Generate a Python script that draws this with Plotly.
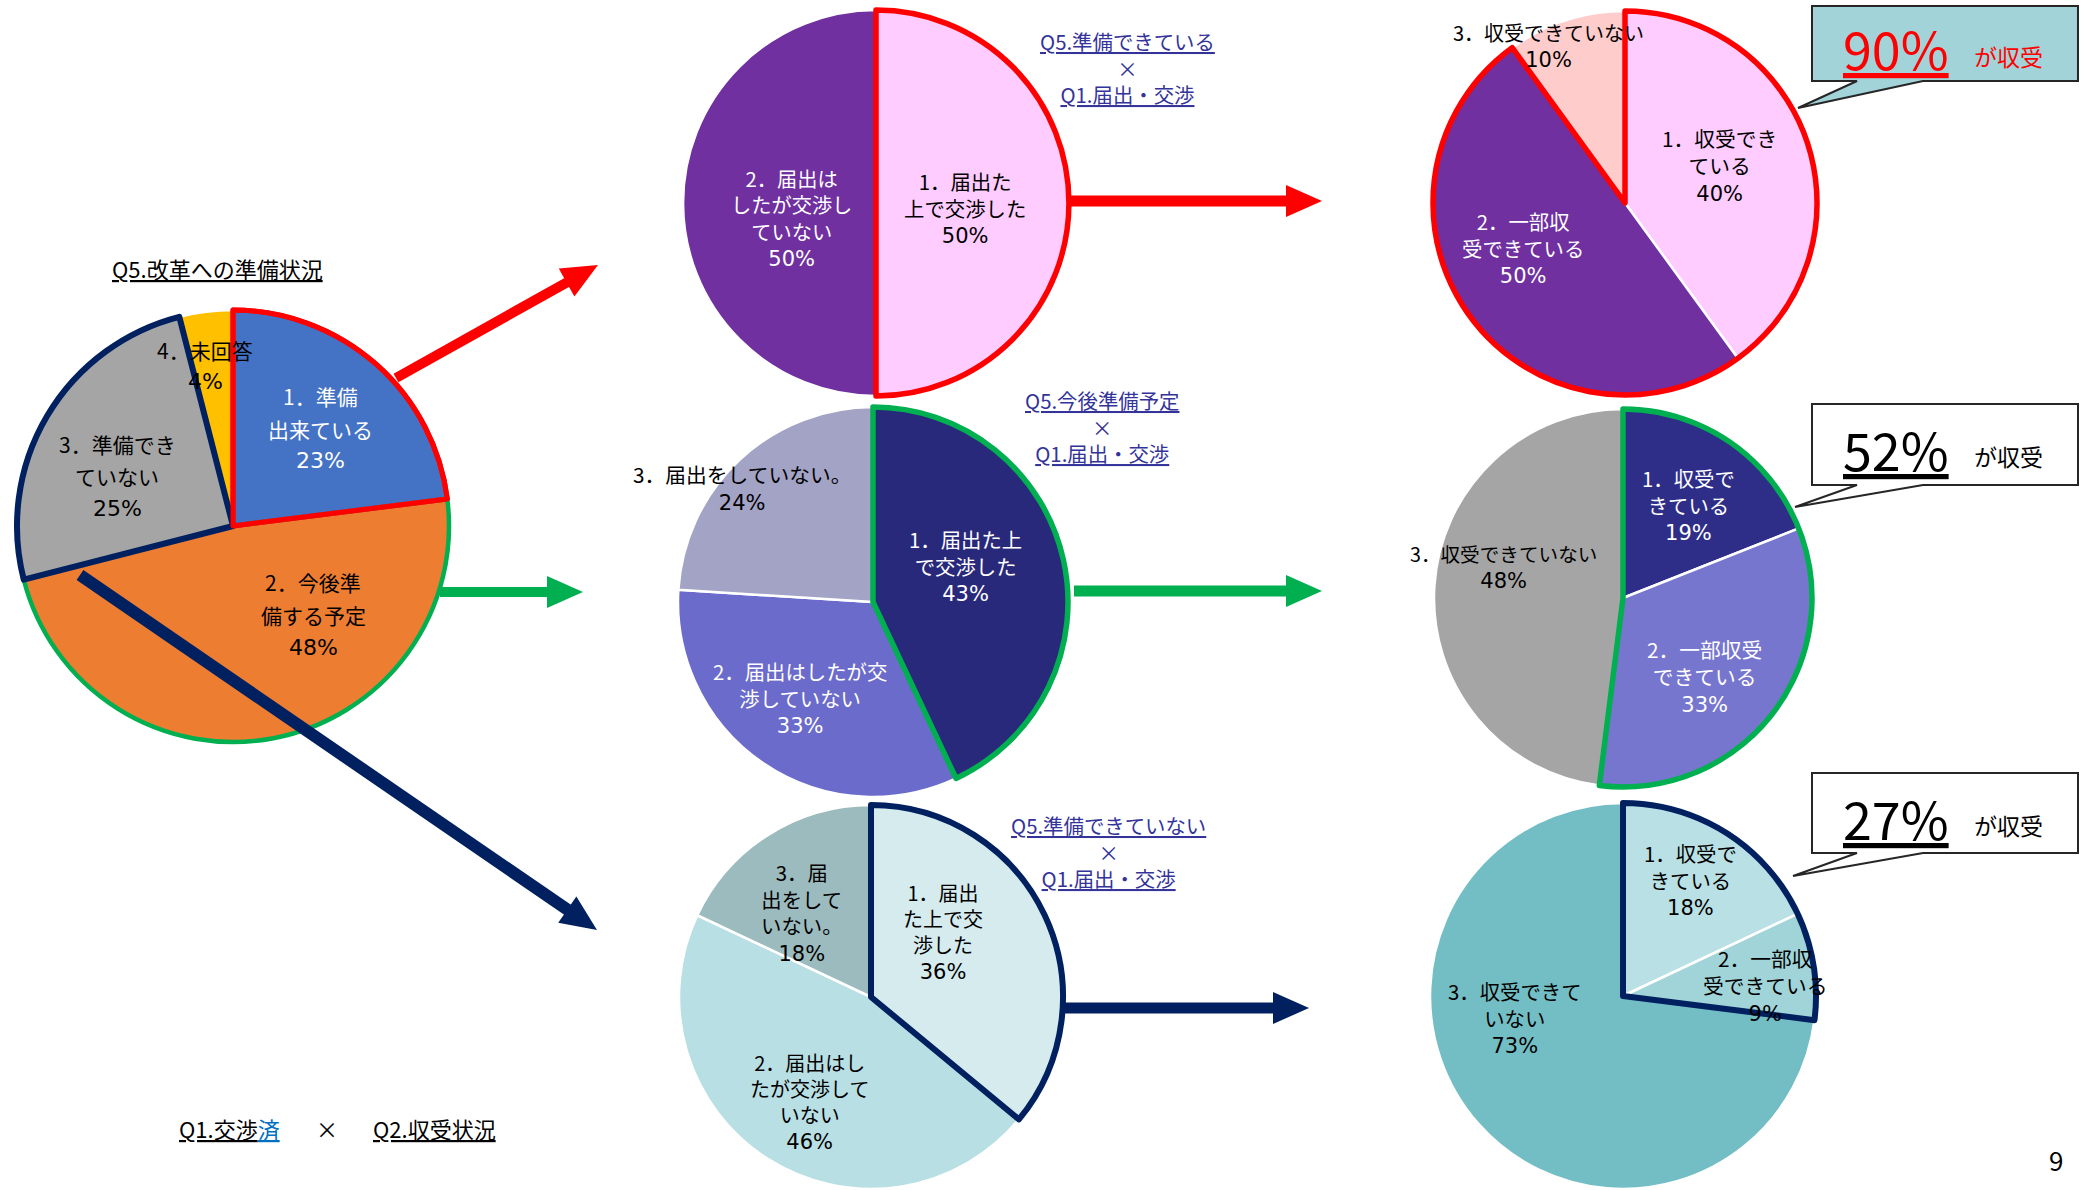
import plotly.graph_objects as go

W, H = 2089, 1190
FONT = "Noto Sans CJK JP"
NUM_FONT = "DejaVu Sans"

# ---------------- data ----------------
main_categories = ["1．準備出来ている", "2．今後準備する予定", "3．準備できていない", "4．未回答"]
main_values = [23, 48, 25, 4]

nego_categories = ["1．届出た上で交渉した", "2．届出はしたが交渉していない", "3．届出をしていない。"]
nego_ready = [50, 50]            # Q5 準備できている × Q1
nego_planned = [43, 33, 24]      # Q5 今後準備予定 × Q1
nego_notready = [36, 46, 18]     # Q5 準備できていない × Q1

recv_categories = ["1．収受できている", "2．一部収受できている", "3．収受できていない"]
recv_ready = [40, 50, 10]
recv_planned = [19, 33, 48]
recv_notready = [18, 9, 73]

main_title = "Q5.改革への準備状況"
cross_titles = [["Q5.準備できている", "×", "Q1.届出・交渉"],
                ["Q5.今後準備予定", "×", "Q1.届出・交渉"],
                ["Q5.準備できていない", "×", "Q1.届出・交渉"]]
callout_suffix = "が収受"

fig = go.Figure()


def px(x):
    return x / W


def py(y):
    return 1 - y / H


def dom(cx, cy, r):
    return dict(x=[max(0, (cx - r) / W), min(1, (cx + r) / W)],
                y=[max(0, 1 - (cy + r) / H), min(1, 1 - (cy - r) / H)])


def add_pie(values, labels, colors, cx, cy, r):
    fig.add_trace(go.Pie(values=values, labels=labels, sort=False, direction="clockwise",
                         rotation=0, textinfo="none", hoverinfo="none", showlegend=False,
                         marker=dict(colors=colors, line=dict(color="white", width=2.5)),
                         domain=dom(cx, cy, r)))


def add_outline(values, cx, cy, r, colors, widths):
    fig.add_trace(go.Pie(values=values, sort=False, direction="clockwise", rotation=0,
                         textinfo="none", hoverinfo="none", showlegend=False,
                         marker=dict(colors=["rgba(0,0,0,0)"] * len(values),
                                     line=dict(color=colors, width=widths)),
                         domain=dom(cx, cy, r)))


def text(x, y, t, color="black", size=20, family=FONT):
    fig.add_annotation(x=px(x), y=py(y), xref="paper", yref="paper", text=t, showarrow=False,
                       font=dict(family=family, size=size, color=color),
                       xanchor="center", yanchor="middle", borderpad=0)


def pct(val, size=21):
    return f"<span style='font-family:{NUM_FONT};font-size:{size}px'>{val}%</span>"


def label(cat, val, breaks, x, y0, color, spacing=26.5):
    parts, last = [], 0
    for b in breaks:
        parts.append(cat[last:b])
        last = b
    parts.append(cat[last:])
    n = len(parts) + 1
    if spacing > 30:
        for i, t in enumerate(parts):
            text(x, y0 + i * spacing, t, color, 21)
        text(x, y0 + len(parts) * spacing, f"{val}%", color, 22, NUM_FONT)
    else:
        body = "<br>".join(parts) + "<br>" + pct(val)
        text(x, y0 + (n - 1) * spacing / 2, body, color, spacing / 1.3)


def arrow(x0, y0, x1, y1, color, width, head_len=36, head_w=32):
    dx, dy = x1 - x0, y1 - y0
    L = (dx * dx + dy * dy) ** 0.5
    ux, uy = dx / L, dy / L
    bx, by = x1 - ux * head_len, y1 - uy * head_len
    fig.add_shape(type="line", xref="paper", yref="paper",
                  x0=px(x0), y0=py(y0), x1=px(bx + ux * 3), y1=py(by + uy * 3),
                  line=dict(color=color, width=width))
    nx, ny = -uy, ux
    pts = [(x1, y1), (bx + nx * head_w / 2, by + ny * head_w / 2),
           (bx - nx * head_w / 2, by - ny * head_w / 2)]
    path = "M " + " L ".join(f"{px(a):.5f},{py(b):.5f}" for a, b in pts) + " Z"
    fig.add_shape(type="path", path=path, xref="paper", yref="paper",
                  fillcolor=color, line=dict(color=color, width=0))


def callout(x0, y0, x1, y1, bl, br, tipx, tipy, fill):
    pts = [(x0, y0), (x1, y0), (x1, y1), (br, y1), (tipx, tipy), (bl, y1), (x0, y1)]
    path = "M " + " L ".join(f"{px(a):.5f},{py(b):.5f}" for a, b in pts) + " Z"
    fig.add_shape(type="path", path=path, xref="paper", yref="paper",
                  fillcolor=fill, line=dict(color="#262626", width=2))


RED, GREEN, NAVY = "#FF0000", "#00B050", "#002060"
UL = "<span style='text-decoration:underline'>{}</span>"
NONE = "rgba(0,0,0,0)"

# ---------------- main pie ----------------
mc = (233, 526, 216)
add_pie(main_values, main_categories, ["#4472C4", "#ED7D31", "#A5A5A5", "#FFC000"], *mc)
add_outline(main_values, *mc, [RED, GREEN, NAVY, NONE], [5, 4.5, 6, 0])
add_outline(main_values, *mc, [RED, NONE, NONE, NONE], [5, 0, 0, 0])
label(main_categories[0], main_values[0], [4], 320, 396, "white", 32.5)
label(main_categories[1], main_values[1], [5], 313, 582, "black", 32.5)
label(main_categories[2], main_values[2], [6], 117, 444, "black", 32)
label(main_categories[3], main_values[3], [], 205, 350, "black", 32)
text(217, 268, UL.format(main_title), "black", 22)

# ---------------- middle column ----------------
p1 = (876, 203, 193)
add_pie(nego_ready, nego_categories[:2], ["#FFCCFF", "#7030A0"], *p1)
add_outline(nego_ready, *p1, [RED, NONE], [5.5, 0])
label(nego_categories[0], nego_ready[0], [5], 965, 180, "black", 26.5)
label(nego_categories[1], nego_ready[1], [5, 11], 791, 178, "white", 26.3)

p2 = (873, 602, 195)
add_pie(nego_planned, nego_categories, ["#29297B", "#6B6BCB", "#A3A3C6"], *p2)
add_outline(nego_planned, *p2, [GREEN, NONE, NONE], [5.5, 0, 0])
label(nego_categories[0], nego_planned[0], [6], 965, 538, "white", 26.5)
label(nego_categories[1], nego_planned[1], [9], 800, 670, "white", 26.5)
label(nego_categories[2], nego_planned[2], [], 742, 473, "black", 27)

p3 = (871, 997, 192)
add_pie(nego_notready, nego_categories, ["#D5EBEE", "#B8DFE3", "#9CBBBE"], *p3)
add_outline(nego_notready, *p3, [NAVY, NONE, NONE], [6, 0, 0])
label(nego_categories[0], nego_notready[0], [4, 8], 943, 892, "black", 26)
label(nego_categories[1], nego_notready[1], [6, 12], 809, 1062, "black", 26)
label(nego_categories[2], nego_notready[2], [3, 7], 802, 872, "black", 26.5)

TITLE_COLOR = "#33339A"
for (cx, y0), lines in zip([(1127, 41), (1102, 400), (1108, 825)], cross_titles):
    body = UL.format(lines[0]) + "<br>" + lines[1] + "<br>" + UL.format(lines[2])
    text(cx, y0 + 26.5, body, TITLE_COLOR, 20.4)

# ---------------- right column ----------------
r1 = (1625, 203, 192)
add_pie(recv_ready, recv_categories, ["#FFCCFF", "#7030A0", "#FFCCCC"], *r1)
add_outline([recv_ready[0] + recv_ready[1], recv_ready[2]], *r1, [RED, NONE], [5.5, 0])
label(recv_categories[0], recv_ready[0], [6], 1719, 138, "black", 27)
label(recv_categories[1], recv_ready[1], [5], 1523, 220, "white", 26.5)
label(recv_categories[2], recv_ready[2], [], 1548, 32, "black", 26)

r2 = (1623, 598, 189)
add_pie(recv_planned, recv_categories, ["#2E2E88", "#7676CF", "#A5A5A5"], *r2)
add_outline([recv_planned[0] + recv_planned[1], recv_planned[2]], *r2, [GREEN, NONE], [5.5, 0])
label(recv_categories[0], recv_planned[0], [5], 1688, 477, "white", 26.5)
label(recv_categories[1], recv_planned[1], [6], 1704, 648, "white", 27)
label(recv_categories[2], recv_planned[2], [], 1503, 553, "black", 25.5)

r3 = (1623, 996, 193)
add_pie(recv_notready, recv_categories, ["#B9E0E4", "#A0D4D8", "#73BEC4"], *r3)
add_outline([recv_notready[0] + recv_notready[1], recv_notready[2]], *r3, [NAVY, NONE], [6, 0])
label(recv_categories[0], recv_notready[0], [5], 1690, 852, "black", 26.5)
label(recv_categories[1], recv_notready[1], [5], 1765, 958, "black", 27)
label(recv_categories[2], recv_notready[2], [7], 1515, 990, "black", 26.5)

# ---------------- arrows ----------------
arrow(396, 378, 598, 265, RED, 10)
arrow(440, 592, 583, 592, GREEN, 10)
arrow(80, 575, 597, 930, NAVY, 12)
arrow(1070, 201, 1322, 201, RED, 11)
arrow(1074, 591, 1322, 591, GREEN, 11)
arrow(1062, 1008, 1309, 1008, NAVY, 11)

# ---------------- callouts ----------------
callouts = [
    (6, 81, 1798, 108, "#A1D3D8", RED, recv_ready),
    (404, 485, 1795, 507, "white", "black", recv_planned),
    (773, 853, 1793, 876, "white", "black", recv_notready),
]
for top, bot, tx, ty, fill, tcol, vals in callouts:
    callout(1812, top, 2078, bot, 1857, 1923, tx, ty, fill)
    mid = (top + bot) / 2
    text(1896, mid + 4, UL.format(f"{vals[0] + vals[1]}%"), tcol, 52)
    text(2008, mid + 12, callout_suffix, tcol, 23)

# ---------------- footer ----------------
text(229, 1128, "<span style='text-decoration:underline'>Q1.交渉</span>"
     "<span style='color:#0070C0;text-decoration:underline'>済</span>", "black", 22)
text(327, 1128, "×", "black", 22)
text(434, 1128, UL.format("Q2.収受状況"), "black", 22)
text(2056, 1159, "9", "black", 26)

fig.update_layout(width=W, height=H, margin=dict(l=0, r=0, t=0, b=0),
                  paper_bgcolor="white", plot_bgcolor="white", showlegend=False,
                  font=dict(family=FONT))

fig.write_html("out.html", config={"displayModeBar": False})
